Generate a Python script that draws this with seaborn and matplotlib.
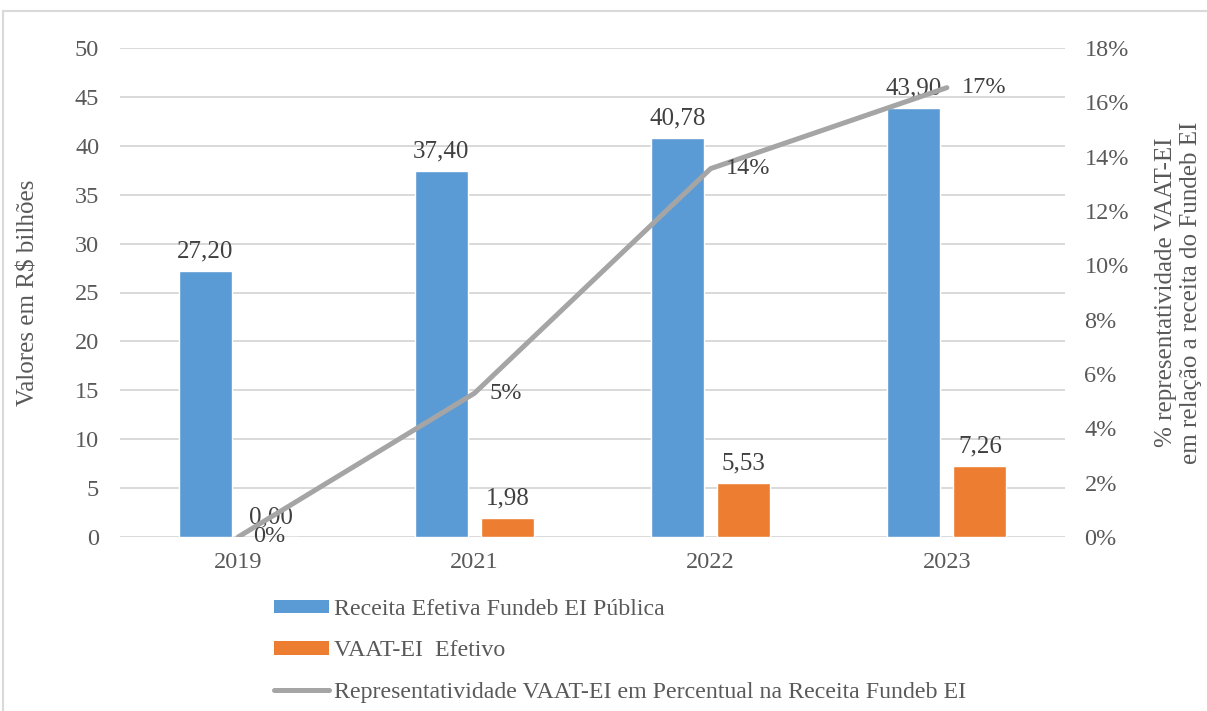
import numpy as np
import pandas as pd
import seaborn as sns
import matplotlib.pyplot as plt
from matplotlib.lines import Line2D
from matplotlib.patches import Patch, Rectangle

# dados
anos = ["2019", "2021", "2022", "2023"]
receita_fundeb = [27.20, 37.40, 40.78, 43.90]
vaat_ei = [0.00, 1.98, 5.53, 7.26]
representatividade = [0.0, 0.0529, 0.1356, 0.1654]

serie_receita = "Receita Efetiva Fundeb EI Pública"
serie_vaat = "VAAT-EI  Efetivo"
serie_linha = "Representatividade VAAT-EI em Percentual na Receita Fundeb EI"

azul = "#5B9BD5"
laranja = "#ED7D31"
cinza = "#A5A5A5"
texto = "#595959"

df = pd.DataFrame({
    "Ano": anos * 2,
    "Serie": [serie_receita] * len(anos) + [serie_vaat] * len(anos),
    "Valor": receita_fundeb + vaat_ei,
})

sns.set_theme(style="white")
plt.rcParams["font.family"] = ["Liberation Serif", "DejaVu Serif"]

fig = plt.figure(figsize=(12.07, 7.11), dpi=100)
ax = fig.add_axes([120 / 1207, 1 - 537 / 711, 945 / 1207, 489 / 711])

sns.barplot(data=df, x="Ano", y="Valor", hue="Serie", palette=[azul, laranja],
            width=0.56, gap=0.2, ax=ax, legend=False, saturation=1)

for cont in ax.containers:
    ax.bar_label(cont, labels=[f"{b.get_height():.2f}".replace(".", ",") for b in cont],
                 padding=6, fontsize=18, color="#404040")

ax.set_ylim(0, 50)
ax.set_yticks(np.arange(0, 51, 5))
ax.set_xlim(-0.5, 3.5)
ax.yaxis.grid(True, color="#D9D9D9", lw=1.4)
ax.set_axisbelow(True)
for s in ax.spines.values():
    s.set_visible(False)
ax.tick_params(axis="both", length=0, labelsize=17.5, colors=texto)
ax.tick_params(axis="x", pad=11)
ax.tick_params(axis="y", pad=15)
ax.set_xlabel("")
ax.set_ylabel("Valores em R$ bilhões", fontsize=18, color=texto)
ax.yaxis.set_label_coords(-0.097, 0.5)
ax.yaxis.label.set_va("center")

ax2 = ax.twinx()
sns.lineplot(x=np.arange(len(anos)), y=representatividade, ax=ax2, color=cinza, lw=3.6)
for i, p in enumerate(representatividade):
    ax2.annotate(f"{p * 100:.0f}%", (i, p), xytext=(11, 0), textcoords="offset points",
                 ha="left", va="center", fontsize=17.5, color="#404040")
ax2.set_ylim(0, 0.18)
ax2.set_yticks(np.arange(0, 0.181, 0.02))
ax2.set_yticklabels([f"{t:.0f}%" for t in np.arange(0, 18.1, 2)])
for s in ax2.spines.values():
    s.set_visible(False)
ax2.tick_params(axis="y", length=0, labelsize=17.5, colors=texto, pad=14)
ax2.set_ylabel("% representatividade VAAT-EI\nem relação a receita do Fundeb EI",
               fontsize=18, color=texto, multialignment="center")
ax2.yaxis.set_label_coords(1.12, 0.5)
ax2.yaxis.label.set_va("center")

handles = [
    Patch(facecolor=azul, edgecolor="none"),
    Patch(facecolor=laranja, edgecolor="none"),
    Line2D([0], [0], color=cinza, lw=3.6),
]
leg = fig.legend(handles, [serie_receita, serie_vaat, serie_linha],
                 loc="upper left", bbox_to_anchor=(274 / 1207, 1 - 599 / 711),
                 frameon=False, fontsize=17.2, handlelength=2.3, handleheight=0.5,
                 handletextpad=0.2, labelspacing=0.85, borderpad=0, borderaxespad=0)
for t in leg.get_texts():
    t.set_color(texto)

fig.patches.append(Rectangle((3 / 1207, -0.1), 1.2, 1 - 11 / 711 + 0.1,
                             transform=fig.transFigure, fill=False,
                             edgecolor="#D9D9D9", lw=1.5))

fig.savefig("out.png", dpi=100)
